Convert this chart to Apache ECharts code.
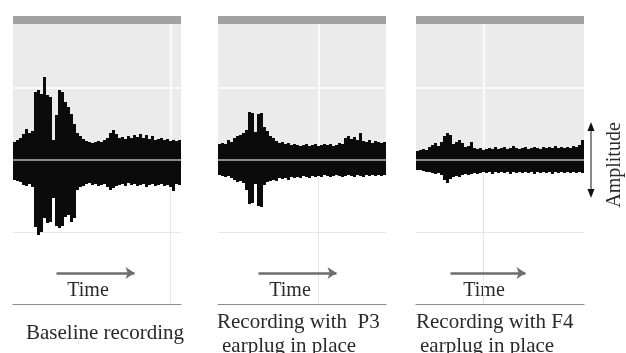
<!DOCTYPE html>
<html>
<head>
<meta charset="utf-8">
<script src="https://cdn.jsdelivr.net/npm/echarts@6/dist/echarts.min.js"></script>
<style>
  html, body { margin: 0; padding: 0; background: #fff; }
  #chart { width: 626px; height: 353px; }
</style>
</head>
<body>
<div id="chart"></div>
<script>
// time bins (56 per recording)
const timeBins = [
  0, 1, 2, 3, 4, 5, 6, 7, 8, 9, 10, 11, 12, 13, 14, 15, 16, 17, 18, 19,
  20, 21, 22, 23, 24, 25, 26, 27, 28, 29, 30, 31, 32, 33, 34, 35, 36, 37, 38, 39,
  40, 41, 42, 43, 44, 45, 46, 47, 48, 49, 50, 51, 52, 53, 54, 55
];

// envelope of the waveform, upper (+) and lower (-) amplitude per bin
const baselineUpper = [
  18, 20, 22, 26, 31, 27, 29, 68, 70, 66, 83, 65, 63, 20, 45, 70, 68, 58, 53, 46,
  36, 27, 24, 21, 19, 18, 17, 18, 19, 18, 20, 22, 27, 30, 26, 22, 23, 21, 24, 22,
  25, 23, 26, 22, 25, 21, 24, 20, 21, 22, 20, 21, 19, 20, 19, 20
];
const baselineLower = [
  -20, -21, -22, -25, -26, -24, -27, -67, -75, -72, -58, -63, -62, -38, -66, -68, -66, -57, -55, -62,
  -58, -30, -27, -26, -24, -23, -25, -24, -26, -25, -24, -27, -30, -28, -26, -25, -24, -26, -23, -25,
  -24, -26, -25, -24, -27, -25, -24, -26, -25, -24, -26, -25, -27, -31, -24, -25
];

const p3Upper = [
  16, 17, 16, 20, 18, 22, 24, 25, 27, 30, 48, 47, 28, 46, 47, 33, 29, 24, 22, 19,
  17, 18, 16, 17, 15, 16, 15, 14, 15, 16, 14, 15, 16, 14, 15, 16, 15, 16, 14, 15,
  17, 16, 22, 24, 21, 23, 20, 27, 19, 18, 20, 17, 19, 18, 17, 18
];
const p3Lower = [
  -15, -16, -17, -16, -18, -20, -22, -21, -23, -30, -44, -43, -24, -46, -47, -25, -22, -21, -20, -21,
  -18, -19, -18, -20, -17, -18, -17, -18, -16, -17, -18, -16, -17, -16, -17, -15, -16, -17, -16, -15,
  -16, -17, -16, -15, -16, -17, -15, -16, -17, -15, -16, -15, -16, -15, -16, -15
];

const f4Upper = [
  9, 10, 11, 10, 13, 15, 17, 14, 18, 24, 27, 25, 16, 18, 20, 17, 13, 14, 18, 12,
  11, 12, 10, 11, 12, 11, 13, 11, 12, 13, 11, 12, 14, 12, 11, 12, 13, 11, 12, 13,
  12, 11, 13, 12, 13, 12, 14, 12, 13, 12, 13, 12, 14, 13, 15, 20
];
const f4Lower = [
  -10, -10, -11, -12, -12, -13, -14, -13, -15, -20, -23, -19, -17, -16, -17, -15, -14, -15, -14, -13,
  -14, -13, -12, -13, -12, -14, -12, -13, -12, -13, -12, -14, -12, -13, -12, -13, -12, -13, -12, -14,
  -12, -13, -12, -13, -12, -14, -12, -13, -12, -13, -12, -13, -12, -13, -12, -13
];

const captions = [
  ["Baseline recording"],
  ["Recording with  P3", "earplug in place"],
  ["Recording with F4", "earplug in place"]
];

const panels = [
  { left: 13, width: 168, up: baselineUpper, down: baselineLower, vline: 52, arrow: [14, 40], timeX: 88, capX: [26], capY: [333] },
  { left: 218, width: 168, up: p3Upper, down: p3Lower, vline: 33, arrow: [13, 39], timeX: 290, capX: [217, 222], capY: [322, 346] },
  { left: 416, width: 168, up: f4Upper, down: f4Lower, vline: 22, arrow: [11, 36], timeX: 484, capX: [416, 420], capY: [322, 346] }
];

const serif = '"Liberation Serif", "DejaVu Serif", serif';
const textColor = "#2a2a2a";

var chart = echarts.init(document.getElementById("chart"));

const grid = [];
const xAxis = [];
const yAxis = [];
const series = [];
const graphic = [];

panels.forEach((p, i) => {
  grid.push({ left: p.left, width: p.width, top: 16, height: 288 });
  xAxis.push({
    type: "category",
    gridIndex: i,
    data: timeBins,
    boundaryGap: true,
    axisLine: { show: true, onZero: false, lineStyle: { color: "#8c8c8c", width: 1.2 } },
    axisTick: { show: false },
    axisLabel: { show: false },
    splitLine: { show: false }
  });
  yAxis.push({
    type: "value",
    gridIndex: i,
    min: -144,
    max: 144,
    interval: 72,
    axisLine: { show: false },
    axisTick: { show: false },
    axisLabel: { show: false },
    splitLine: { show: false }
  });

  // upper half of the envelope, carries the panel background and grid lines
  series.push({
    type: "bar",
    xAxisIndex: i,
    yAxisIndex: i,
    data: p.up,
    barCategoryGap: "0%",
    barGap: "-100%",
    itemStyle: { color: "#0b0b0b" },
    z: 2,
    silent: true,
    markArea: {
      silent: true,
      z: 1,
      data: [
        [{ yAxis: 0, itemStyle: { color: "#ebebeb" } }, { yAxis: 136 }],
        [{ yAxis: 136, itemStyle: { color: "#a2a2a2" } }, { yAxis: 144 }]
      ]
    },
    markLine: {
      silent: true,
      z: 1.5,
      symbol: ["none", "none"],
      label: { show: false },
      data: [
        { yAxis: 72, lineStyle: { color: "#ffffff", width: 1.5, type: "solid" } },
        { yAxis: -72, lineStyle: { color: "#e6e6e6", width: 1, type: "solid" } },
        [{ coord: [p.vline, 0], lineStyle: { color: "#ffffff", width: 1.5, type: "solid" } }, { coord: [p.vline, 136] }],
        [{ coord: [p.vline, -144], lineStyle: { color: "#e6e6e6", width: 1, type: "solid" } }, { coord: [p.vline, 0] }]
      ]
    }
  });

  // lower half, carries the zero line and the time arrow
  series.push({
    type: "bar",
    xAxisIndex: i,
    yAxisIndex: i,
    data: p.down,
    barCategoryGap: "0%",
    barGap: "-100%",
    itemStyle: { color: "#0b0b0b" },
    z: 2,
    silent: true,
    markLine: {
      silent: true,
      z: 5,
      symbol: ["none", "none"],
      label: { show: false },
      data: [
        { yAxis: 0, lineStyle: { color: "#b8b8b8", width: 1.5, type: "solid" } },
        [
          { coord: [p.arrow[0], -113], symbol: "none", lineStyle: { color: "#6e6e6e", width: 2.5, type: "solid" } },
          { coord: [p.arrow[1], -113], symbol: "arrow", symbolSize: 9 }
        ]
      ]
    }
  });

  graphic.push({
    type: "text",
    x: p.timeX,
    y: 291,
    style: { text: "Time", font: "20px " + serif, fill: textColor, align: "center", verticalAlign: "middle", textAlign: "center", textVerticalAlign: "middle" }
  });
  captions[i].forEach((line, k) => {
    graphic.push({
      type: "text",
      x: p.capX[k],
      y: p.capY[k],
      style: { text: line, font: "21px " + serif, fill: textColor, align: "left", verticalAlign: "middle", textAlign: "left", textVerticalAlign: "middle" }
    });
  });
});

// amplitude double arrow and label
graphic.push(
  { type: "line", shape: { x1: 591, y1: 128, x2: 591, y2: 192 }, style: { stroke: "#8a8a8a", lineWidth: 2 } },
  { type: "polygon", shape: { points: [[591, 122], [587.5, 131], [594.5, 131]] }, style: { fill: "#111" } },
  { type: "polygon", shape: { points: [[591, 198], [587.5, 189], [594.5, 189]] }, style: { fill: "#111" } },
  {
    type: "text",
    x: 615,
    y: 165,
    rotation: Math.PI / 2,
    style: { text: "Amplitude", font: "20px " + serif, fill: textColor, align: "center", verticalAlign: "middle", textAlign: "center", textVerticalAlign: "middle" }
  }
);

const option = {
  animation: false,
  backgroundColor: "#ffffff",
  grid: grid,
  xAxis: xAxis,
  yAxis: yAxis,
  series: series,
  graphic: graphic
};
chart.setOption(option);
</script>
</body>
</html>
